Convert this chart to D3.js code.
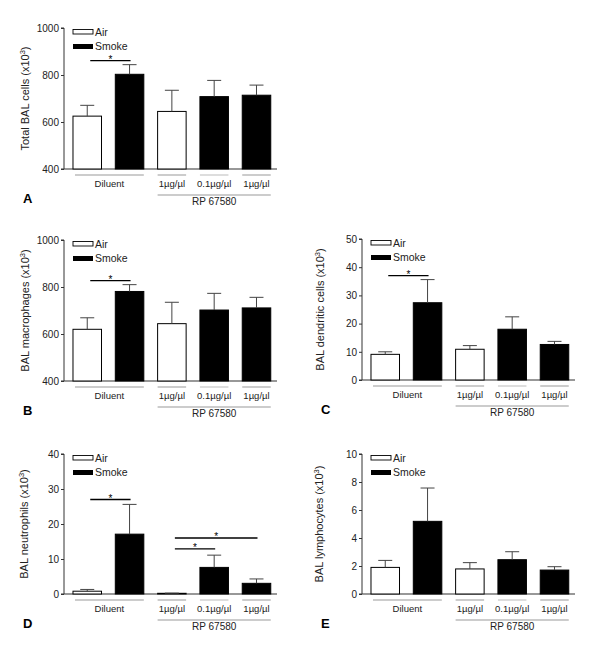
<!DOCTYPE html>
<html><head><meta charset="utf-8">
<script src="https://cdn.jsdelivr.net/npm/d3@7"></script>
<style>body{margin:0;background:#fff}svg{display:block;font-family:"Liberation Sans",Arial,sans-serif}</style>
</head><body>
<script>
// ---- data ----
const groups = ["Air Diluent", "Smoke Diluent", "Air RP 1", "Smoke RP 0.1", "Smoke RP 1"];
const exposure = ["Air", "Smoke", "Air", "Smoke", "Smoke"];
const doseLabels = ["1µg/µl", "0.1µg/µl", "1µg/µl"];
const totalMean = [625, 803, 645, 708, 714];
const totalSEM = [46, 41, 90, 69, 43];
const macroMean = [620, 781, 644, 702, 711];
const macroSEM = [49, 29, 91, 71, 45];
const dcMean = [9.1, 27.4, 10.9, 18.0, 12.6];
const dcSEM = [0.9, 8.2, 1.3, 4.4, 1.1];
const neutMean = [0.8, 17.1, 0.2, 7.6, 3.05];
const neutSEM = [0.5, 8.5, 0.05, 3.5, 1.25];
const lymphMean = [1.9, 5.19, 1.79, 2.45, 1.71];
const lymphSEM = [0.5, 2.38, 0.45, 0.57, 0.24];
const ticksTotal = [400, 600, 800, 1000];
const ticksDC = [0, 10, 20, 30, 40, 50];
const ticksNeut = [0, 10, 20, 30, 40];
const ticksLymph = [0, 2, 4, 6, 8, 10];

const panels = [
  {letter:"A", label:"Total BAL cells (x10", mean:totalMean, sem:totalSEM, ticks:ticksTotal, dom:[400,1000], x0:64, top:28, bottom:169, lblOff:35, sig:[[0,1]]},
  {letter:"B", label:"BAL macrophages (x10", mean:macroMean, sem:macroSEM, ticks:ticksTotal, dom:[400,1000], x0:64, top:240, bottom:381, lblOff:35, sig:[[0,1]]},
  {letter:"C", label:"BAL dendritic cells (x10", mean:dcMean, sem:dcSEM, ticks:ticksDC, dom:[0,50], x0:362, top:239, bottom:380, lblOff:38, sig:[[0,1]]},
  {letter:"D", label:"BAL neutrophils (x10", mean:neutMean, sem:neutSEM, ticks:ticksNeut, dom:[0,40], x0:64, top:454, bottom:594, lblOff:36, sig:[[0,1],[2,3],[2,4]]},
  {letter:"E", label:"BAL lymphocytes (x10", mean:lymphMean, sem:lymphSEM, ticks:ticksLymph, dom:[0,10], x0:362, top:454, bottom:594, lblOff:39, sig:[]}
];

const svg = d3.select("body").append("svg").attr("width", 600).attr("height", 649);
const axisCol = "#333", errCol = "#444", lineCol = "#999";

panels.forEach(p => {
  const g = svg.append("g");
  const W = 213;
  const x = d3.scaleBand().domain(groups).range([p.x0, p.x0 + W])
    .paddingInner(0.326).paddingOuter(0.18).align(0.59);
  const y = d3.scaleLinear().domain(p.dom).range([p.bottom, p.top]);
  const bw = x.bandwidth();

  // y axis
  const ya = g.append("g").attr("transform", `translate(${p.x0},0)`)
    .call(d3.axisLeft(y).tickValues(p.ticks).tickSize(3).tickPadding(2).tickFormat(d3.format("d")));
  ya.select(".domain").attr("stroke", axisCol).attr("d", `M-3,${p.top}H0V${p.bottom}H-3`);
  ya.selectAll(".tick line").attr("stroke", axisCol);
  ya.selectAll(".tick text").attr("font-size", 10).attr("fill", "#222").attr("font-family", "Liberation Sans, Arial, sans-serif");

  // x axis line
  g.append("line").attr("x1", p.x0).attr("x2", p.x0 + W).attr("y1", p.bottom).attr("y2", p.bottom)
    .attr("stroke", axisCol).attr("stroke-width", 1.2);

  // bars
  g.selectAll("rect.bar").data(groups).join("rect").attr("class", "bar")
    .attr("x", d => x(d)).attr("width", bw)
    .attr("y", (d, i) => y(p.mean[i])).attr("height", (d, i) => p.bottom - y(p.mean[i]))
    .attr("fill", (d, i) => exposure[i] === "Air" ? "#fff" : "#000")
    .attr("stroke", "#000").attr("stroke-width", 1);

  // error bars (upper only)
  groups.forEach((d, i) => {
    const cx = x(d) + bw / 2, yt = y(p.mean[i] + p.sem[i]), yb = y(p.mean[i]);
    g.append("line").attr("x1", cx).attr("x2", cx).attr("y1", yt).attr("y2", yb).attr("stroke", errCol).attr("stroke-width", 1);
    g.append("line").attr("x1", cx - 7).attr("x2", cx + 7).attr("y1", yt).attr("y2", yt).attr("stroke", errCol).attr("stroke-width", 1);
  });

  // y label
  const ylab = g.append("text")
    .attr("transform", `translate(${p.x0 - p.lblOff},${(p.top + p.bottom) / 2}) rotate(-90)`)
    .attr("text-anchor", "middle").attr("font-size", 11).attr("fill", "#222");
  ylab.append("tspan").text(p.label);
  ylab.append("tspan").attr("font-size", 7.5).attr("dy", -4).text("3");
  ylab.append("tspan").attr("dy", 4).text(")");

  // legend
  const lx = p.x0 + 9;
  g.append("rect").attr("x", lx).attr("y", p.top + 1.5).attr("width", 20).attr("height", 4.5).attr("fill", "#fff").attr("stroke", "#000").attr("stroke-width", 0.9);
  g.append("rect").attr("x", lx).attr("y", p.top + 16).attr("width", 20).attr("height", 5).attr("fill", "#000");
  g.append("text").attr("x", lx + 22).attr("y", p.top + 7.5).attr("font-size", 10.5).attr("fill", "#222").text("Air");
  g.append("text").attr("x", lx + 22).attr("y", p.top + 22).attr("font-size", 10.5).attr("fill", "#222").text("Smoke");

  // significance
  p.sig.forEach(([a, b]) => {
    const x1 = x(groups[a]) + bw / 2 + 3, x2 = x(groups[b]) + bw / 2 + 1;
    const top = Math.max(p.mean[a] + p.sem[a], p.mean[b] + p.sem[b]);
    let ly;
    if (p.letter === "D" && a === 2 && b === 3) ly = y(12.9);
    else if (p.letter === "D" && a === 2 && b === 4) ly = y(16.0);
    else if (p.letter === "D") ly = y(27.0);
    else ly = y(top) - 4;
    g.append("line").attr("x1", x1).attr("x2", x2).attr("y1", ly).attr("y2", ly).attr("stroke", "#000").attr("stroke-width", 1.4);
    g.append("text").attr("x", (x1 + x2) / 2).attr("y", ly + 2).attr("text-anchor", "middle").attr("font-size", 10).text("*");
  });

  // group labels beneath
  const yl1 = p.bottom + 6, yl2 = p.bottom + 26;
  const dil0 = x(groups[0]) + 2, dil1 = x(groups[1]) + bw;
  g.append("line").attr("x1", dil0).attr("x2", dil1).attr("y1", yl1).attr("y2", yl1).attr("stroke", lineCol);
  g.append("text").attr("x", (dil0 + dil1) / 2).attr("y", p.bottom + 18).attr("text-anchor", "middle").attr("font-size", 9.5).attr("fill", "#222").text("Diluent");
  doseLabels.forEach((lab, j) => {
    const gname = groups[j + 2];
    g.append("line").attr("x1", x(gname)).attr("x2", x(gname) + bw).attr("y1", yl1).attr("y2", yl1).attr("stroke", j === 1 ? "#bbb" : lineCol);
    g.append("text").attr("x", x(gname) + bw / 2).attr("y", p.bottom + 18).attr("text-anchor", "middle").attr("font-size", 9.5).attr("fill", "#222").text(lab);
  });
  const rp0 = x(groups[2]), rp1 = x(groups[4]) + bw;
  g.append("line").attr("x1", rp0).attr("x2", rp1).attr("y1", yl2).attr("y2", yl2).attr("stroke", lineCol);
  g.append("text").attr("x", (rp0 + rp1) / 2).attr("y", p.bottom + 36).attr("text-anchor", "middle").attr("font-size", 10).attr("fill", "#222").text("RP 67580");

  // panel letter
  g.append("text").attr("x", p.x0 - 41).attr("y", p.bottom + 34).attr("font-size", 13).attr("font-weight", "bold").text(p.letter);
});
</script>
</body></html>
